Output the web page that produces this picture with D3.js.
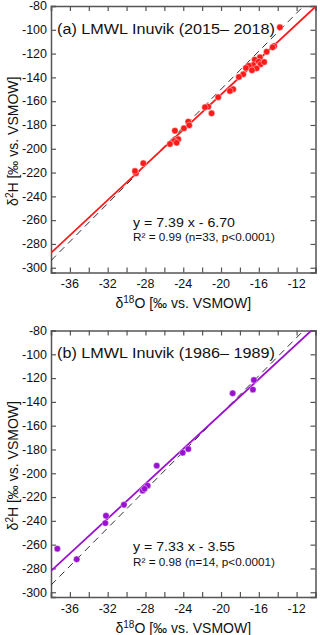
<!DOCTYPE html>
<html>
<head>
<meta charset="utf-8">
<script src="https://cdn.jsdelivr.net/npm/d3@7"></script>
<style>
  body { margin: 0; background: #fff; }
  svg { display: block; font-family: "Liberation Sans", Arial, sans-serif; }
</style>
</head>
<body>
<div id="chart"></div>
<script>
// LMWL Inuvik - two panels >>>>>>>>>>>>>>>>>>>>>>>>>>>>>>>>>>
var width = 320;
height = 635;

// panel (a) 2015-2018
var d18O_a = [-13.77, -14.37, -14.54, -15.17, -15.88, -16.44, -16.02, -15.81, -16.59, -17.05, -16.23,
  -16.73, -17.65, -18.11, -18.71, -19.06, -20.30, -21.35, -21.70, -21.00, -23.47, -23.37, -23.93,
  -24.88, -24.53, -24.95, -25.41, -24.70, -28.23, -29.01, -29.11, -15.43, -17.37];
var d2H_a = [-97.9, -113.6, -114.7, -118.4, -123.1, -125.1, -126.8, -129.0, -129.6, -130.2, -132.4,
  -134.0, -137.4, -139.7, -150.0, -151.4, -156.7, -164.6, -165.1, -170.2, -177.2, -180.3, -182.8,
  -184.8, -192.0, -193.4, -196.0, -194.9, -212.2, -220.6, -218.7, -127.1, -132.1];

// panel (b) 1986-1989
var d18O_b = [-16.52, -16.62, -18.77, -23.47, -24.06, -26.81, -27.77, -28.30, -30.28, -32.18, -32.25,
  -35.28, -37.33, -28.10];
var d2H_b = [-121.6, -129.7, -132.8, -179.6, -182.7, -193.6, -210.4, -214.6, -226.4, -235.7, -241.9,
  -272.3, -263.4, -213.0];

var fitA = { slope: 7.39, icpt: -6.70 };
var fitB = { slope: 7.33, icpt: -3.55 };
var gmwl = { slope: 8, icpt: 10 };

var titles = ["(a) LMWL Inuvik (2015\u2013 2018)", "(b) LMWL Inuvik (1986\u2013 1989)"];
var eqText = ["y = 7.39 x - 6.70", "y = 7.33 x - 3.55"];
var r2Text = ["R\u00b2 = 0.99 (n=33, p<0.0001)", "R\u00b2 = 0.98 (n=14, p<0.0001)"];

var xTicks = d3.range(-38, -9, 2);
var xLabels = [-36, -32, -28, -24, -20, -16, -12];
var yTicks = d3.range(-300, -79, 20);

var margin = { left: 51, right: 4.5, top: 6 };
var plotH = 266.5;
var panelStep = 324.5;
var axisColor = "#555";

var svg = d3.select("#chart").append("svg")
  .attr("width", width)
  .attr("height", height);

var x = d3.scaleLinear().domain([-38, -10]).range([margin.left, width - margin.right]);

function drawPanel(i, xs, ys, fit, color) {
  var top = margin.top + i * panelStep;
  var y = d3.scaleLinear().domain([-304, -80]).range([top + plotH, top]);
  var g = svg.append("g");

  var clipId = "clip" + i;
  g.append("clipPath").attr("id", clipId)
    .append("rect")
    .attr("x", x.range()[0]).attr("y", top)
    .attr("width", x.range()[1] - x.range()[0]).attr("height", plotH);

  // axes: ticks inward on all four sides
  var bottomAx = g.append("g").attr("transform", "translate(0," + (top + plotH) + ")")
    .call(d3.axisBottom(x).tickValues(xTicks).tickSize(-5).tickFormat(""));
  var topAx = g.append("g").attr("transform", "translate(0," + top + ")")
    .call(d3.axisTop(x).tickValues(xTicks).tickSize(-5).tickFormat(""));
  var leftAx = g.append("g").attr("transform", "translate(" + x.range()[0] + ",0)")
    .call(d3.axisLeft(y).tickValues(yTicks).tickSize(-5).tickFormat(""));
  var rightAx = g.append("g").attr("transform", "translate(" + x.range()[1] + ",0)")
    .call(d3.axisRight(y).tickValues(yTicks).tickSize(-5).tickFormat(""));
  [bottomAx, topAx, leftAx, rightAx].forEach(function (a) {
    a.selectAll("path").attr("stroke", axisColor).attr("stroke-width", 1.5);
    a.selectAll("line").attr("stroke", axisColor).attr("stroke-width", 1.2);
  });

  // tick labels
  g.selectAll(".xl").data(xLabels).enter().append("text")
    .attr("x", function (d) { return x(d); })
    .attr("y", top + plotH + 15.5)
    .attr("text-anchor", "middle")
    .attr("font-size", 12.5)
    .attr("fill", "#111")
    .text(function (d) { return d; });
  g.selectAll(".yl").data(yTicks).enter().append("text")
    .attr("x", x.range()[0] - 4)
    .attr("y", function (d) { return y(d) + 4.3; })
    .attr("text-anchor", "end")
    .attr("font-size", 12.5)
    .attr("fill", "#111")
    .text(function (d) { return d; });

  // GMWL dashed + regression line
  var lineData = function (f) {
    return x.domain().map(function (v) { return [v, f.slope * v + f.icpt]; });
  };
  var line = d3.line().x(function (d) { return x(d[0]); }).y(function (d) { return y(d[1]); });

  g.append("path").datum(lineData(gmwl))
    .attr("clip-path", "url(#" + clipId + ")")
    .attr("d", line)
    .attr("fill", "none")
    .attr("stroke", "#333")
    .attr("stroke-width", 1)
    .attr("stroke-dasharray", "7,5");

  g.append("path").datum(lineData(fit))
    .attr("clip-path", "url(#" + clipId + ")")
    .attr("d", line)
    .attr("fill", "none")
    .attr("stroke", color)
    .attr("stroke-width", 1.8);

  // samples
  g.selectAll(".pt").data(xs).enter().append("circle")
    .attr("cx", function (d) { return x(d); })
    .attr("cy", function (d, j) { return y(ys[j]); })
    .attr("r", 3.2)
    .attr("fill", color)
    .attr("stroke", "#fff")
    .attr("stroke-width", 0.4);

  // title + equation
  g.append("text")
    .attr("x", 57).attr("y", top + 27.5)
    .attr("font-size", 14)
    .attr("textLength", 218).attr("lengthAdjust", "spacingAndGlyphs")
    .attr("fill", "#111")
    .text(titles[i]);
  g.append("text")
    .attr("x", 133).attr("y", top + 220.5)
    .attr("font-size", 13)
    .attr("textLength", 102).attr("lengthAdjust", "spacingAndGlyphs")
    .attr("fill", "#111")
    .text(eqText[i]);
  g.append("text")
    .attr("x", 133).attr("y", top + 235)
    .attr("font-size", 10.5)
    .attr("textLength", 142).attr("lengthAdjust", "spacingAndGlyphs")
    .attr("fill", "#111")
    .text(r2Text[i]);

  // axis titles
  var xt = g.append("text")
    .attr("x", (x.range()[0] + x.range()[1]) / 2)
    .attr("y", top + plotH + 35.5)
    .attr("text-anchor", "middle")
    .attr("font-size", 14)
    .attr("fill", "#111");
  xt.append("tspan").text("\u03b4");
  xt.append("tspan").attr("dy", -5).attr("font-size", 10).text("18");
  xt.append("tspan").attr("dy", 5).text("O [\u2030 vs. VSMOW]");

  var yt = g.append("text")
    .attr("transform", "translate(18," + (top + plotH / 2 + 2) + ") rotate(-90)")
    .attr("text-anchor", "middle")
    .attr("font-size", 14)
    .attr("fill", "#111");
  yt.append("tspan").text("\u03b4");
  yt.append("tspan").attr("dy", -5).attr("font-size", 10).text("2");
  yt.append("tspan").attr("dy", 5).text("H [\u2030 vs. VSMOW]");
}

drawPanel(0, d18O_a, d2H_a, fitA, "#ff1a1a");
drawPanel(1, d18O_b, d2H_b, fitB, "#9a10d0");
</script>
</body>
</html>
